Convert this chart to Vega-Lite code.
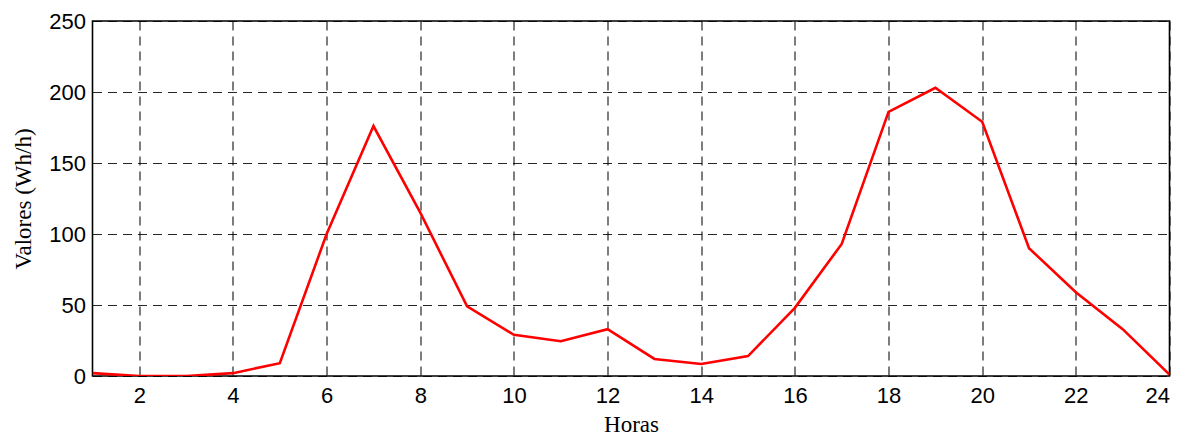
{
  "$schema": "https://vega.github.io/schema/vega-lite/v6.json",
  "width": 1077,
  "height": 355,
  "autosize": {"type": "none"},
  "padding": {"left": 92.5, "top": 21, "right": 19.5, "bottom": 63},
  "background": "white",
  "data": {
    "values": [
      {"hora": 1, "valor": 2},
      {"hora": 2, "valor": 0},
      {"hora": 3, "valor": 0},
      {"hora": 4, "valor": 2},
      {"hora": 5, "valor": 9},
      {"hora": 6, "valor": 100},
      {"hora": 7, "valor": 176},
      {"hora": 8, "valor": 115},
      {"hora": 9, "valor": 49},
      {"hora": 10, "valor": 29},
      {"hora": 11, "valor": 24.5},
      {"hora": 12, "valor": 33},
      {"hora": 13, "valor": 12},
      {"hora": 14, "valor": 8.5},
      {"hora": 15, "valor": 14},
      {"hora": 16, "valor": 48},
      {"hora": 17, "valor": 93},
      {"hora": 18, "valor": 186},
      {"hora": 19, "valor": 203},
      {"hora": 20, "valor": 179},
      {"hora": 21, "valor": 90},
      {"hora": 22, "valor": 59},
      {"hora": 23, "valor": 33},
      {"hora": 24, "valor": 1}
    ]
  },
  "mark": {"type": "line", "color": "#ff0000", "strokeWidth": 2.6, "clip": true},
  "encoding": {
    "x": {
      "field": "hora",
      "type": "quantitative",
      "scale": {"domain": [1, 24], "nice": false, "zero": false},
      "axis": {
        "values": [2, 4, 6, 8, 10, 12, 14, 16, 18, 20, 22, 24],
        "title": "Horas",
        "labelPadding": 9,
        "titlePadding": 7
      }
    },
    "y": {
      "field": "valor",
      "type": "quantitative",
      "scale": {"domain": [0, 250], "nice": false},
      "axis": {
        "values": [0, 50, 100, 150, 200, 250],
        "title": "Valores (Wh/h)",
        "labelPadding": 7,
        "titlePadding": 13
      }
    }
  },
  "config": {
    "view": {"stroke": "#000000", "strokeWidth": 1.6},
    "axis": {
      "domain": false,
      "ticks": false,
      "grid": true,
      "gridColor": "#000000",
      "gridOpacity": 0.85,
      "gridWidth": 1.2,
      "gridDash": [9, 6],
      "labelFont": "Liberation Sans",
      "labelFontSize": 22,
      "labelColor": "#000000",
      "titleFont": "Liberation Serif",
      "titleFontSize": 23,
      "titleFontWeight": "normal",
      "titleColor": "#000000"
    }
  }
}
